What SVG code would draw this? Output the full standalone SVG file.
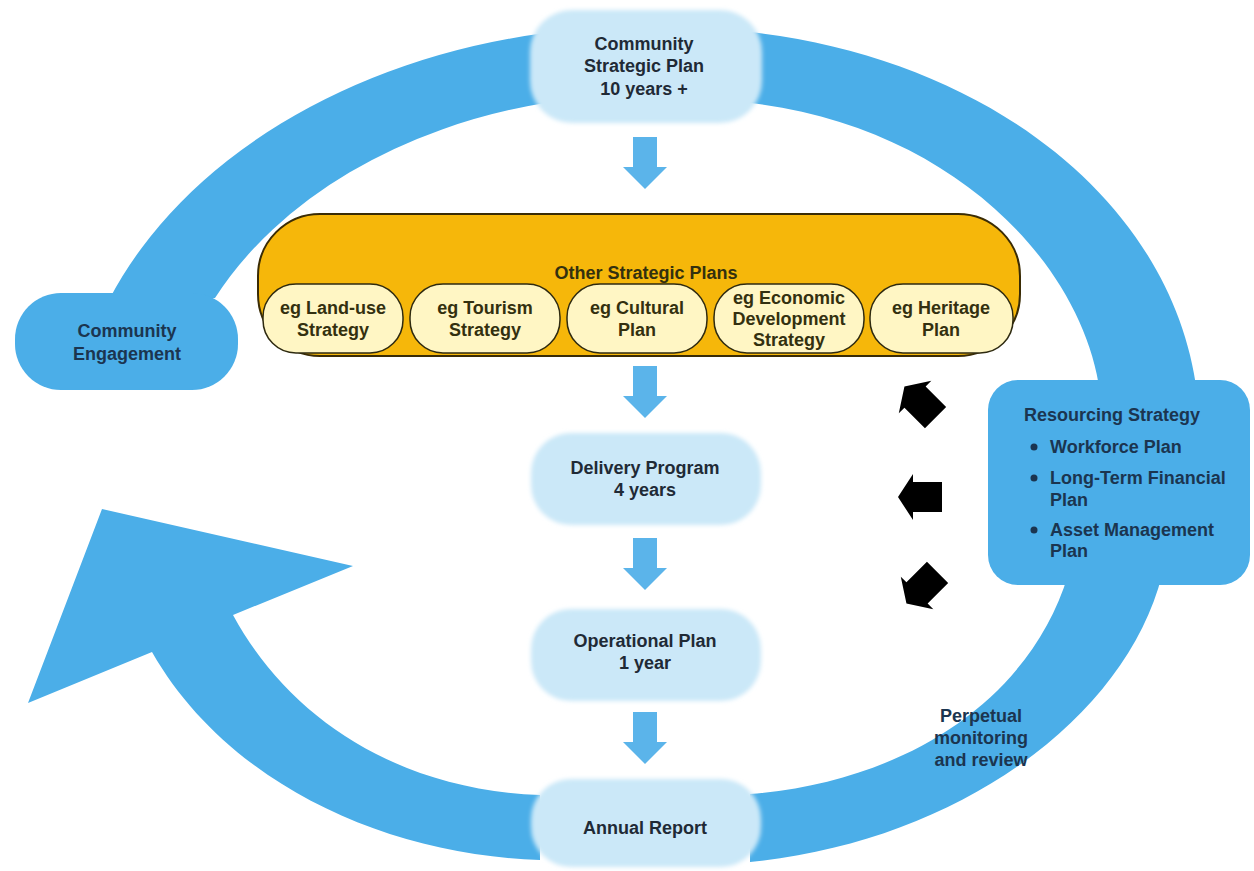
<svg xmlns="http://www.w3.org/2000/svg" width="1254" height="871" viewBox="0 0 1254 871">
<defs>
<style>
.band{fill:#4BAEE8}
.node{fill:#CBE8F8}
.t{font-family:"Liberation Sans",Arial,sans-serif;font-weight:bold;font-size:18px;text-anchor:middle;fill:#1F2A36}
.tb{font-family:"Liberation Sans",Arial,sans-serif;font-weight:bold;font-size:18px;fill:#1B3550}
.tc{font-family:"Liberation Sans",Arial,sans-serif;font-weight:bold;font-size:18px;text-anchor:middle;fill:#1B3550}
.ty{font-family:"Liberation Sans",Arial,sans-serif;font-weight:bold;font-size:18px;text-anchor:middle;fill:#33300F}
.pill{fill:#FFF6C4;stroke:#2E2A10;stroke-width:1.5}
.down{fill:#5BB4EA}
.blk{fill:#000}
</style>
<filter id="soft" x="-10%" y="-10%" width="120%" height="120%"><feGaussianBlur stdDeviation="2"/></filter>
<polygon id="dn" points="-12,0 12,0 12,30 22,30 0,52 -22,30 -12,30"/>
<polygon id="la" points="-22,0 -7,-23 -7,-15 22,-15 22,15 -7,15 -7,23"/>
</defs>

<g id="connectors">
  <!-- top-left arc -->
  <path class="band" d="M 110 298 A 578 428 0 0 1 545 33 L 545 103 A 482 358 0 0 0 215 298 Z"/>
  <!-- top-right arc -->
  <path class="band" d="M 750 32 C 985 58 1172 200 1197 392 L 1100 392 C 1082 262 950 126 750 103 Z"/>
  <!-- bottom-right arc -->
  <path class="band" d="M 750 862 C 955 842 1125 720 1162 575 L 1068 575 C 1030 700 905 782 750 794 Z"/>
  <!-- bottom-left arc with arrowhead -->
  <path class="band" d="M 540 860 C 380 855 225 780 152 652 L 28 703 L 102 509 L 353 566 L 233 615 C 290 720 400 790 540 795 Z"/>
  <!-- down arrows -->
  <use href="#dn" x="645" y="137" class="down"/>
  <use href="#dn" x="645" y="366" class="down"/>
  <use href="#dn" x="645" y="538" class="down"/>
  <use href="#dn" x="645" y="712" class="down"/>
  <!-- black arrows -->
  <use href="#la" class="blk" transform="translate(920,402) rotate(45)"/>
  <use href="#la" class="blk" transform="translate(920,497)"/>
  <use href="#la" class="blk" transform="translate(922,588) rotate(-45)"/>
</g>

<g id="community-engagement">
  <rect class="band" x="15" y="293" width="223" height="97" rx="46"/>
  <text class="tc" x="127" y="337">Community</text>
  <text class="tc" x="127" y="360">Engagement</text>
</g>

<g id="community-strategic-plan">
  <rect class="node" x="530" y="10" width="232" height="113" rx="42" filter="url(#soft)"/>
  <text class="t" x="644" y="50">Community</text>
  <text class="t" x="644" y="72">Strategic Plan</text>
  <text class="t" x="644" y="95">10 years +</text>
</g>

<g id="other-strategic-plans">
  <rect x="258" y="214" width="762" height="142" rx="62" fill="#F6B70A" stroke="#3A2C05" stroke-width="2"/>
  <text class="ty" x="646" y="279" fill="#5C4300">Other Strategic Plans</text>
  <g id="land-use">
    <rect class="pill" x="263" y="284" width="140" height="69" rx="33"/>
    <text class="ty" x="333" y="314">eg Land-use</text>
    <text class="ty" x="333" y="336">Strategy</text>
  </g>
  <g id="tourism">
    <rect class="pill" x="410" y="284" width="150" height="69" rx="33"/>
    <text class="ty" x="485" y="314">eg Tourism</text>
    <text class="ty" x="485" y="336">Strategy</text>
  </g>
  <g id="cultural">
    <rect class="pill" x="567" y="284" width="140" height="69" rx="33"/>
    <text class="ty" x="637" y="314">eg Cultural</text>
    <text class="ty" x="637" y="336">Plan</text>
  </g>
  <g id="economic">
    <rect class="pill" x="714" y="284" width="150" height="69" rx="33"/>
    <text class="ty" x="789" y="304">eg Economic</text>
    <text class="ty" x="789" y="325">Development</text>
    <text class="ty" x="789" y="346">Strategy</text>
  </g>
  <g id="heritage">
    <rect class="pill" x="870" y="284" width="143" height="69" rx="33"/>
    <text class="ty" x="941" y="314">eg Heritage</text>
    <text class="ty" x="941" y="336">Plan</text>
  </g>
</g>

<g id="delivery-program">
  <rect class="node" x="531" y="433" width="230" height="92" rx="40" filter="url(#soft)"/>
  <text class="t" x="645" y="474">Delivery Program</text>
  <text class="t" x="645" y="496">4 years</text>
</g>

<g id="operational-plan">
  <rect class="node" x="531" y="609" width="230" height="92" rx="40" filter="url(#soft)"/>
  <text class="t" x="645" y="647">Operational Plan</text>
  <text class="t" x="645" y="669">1 year</text>
</g>

<g id="annual-report">
  <rect class="node" x="531" y="779" width="230" height="88" rx="40" filter="url(#soft)"/>
  <text class="t" x="645" y="834">Annual Report</text>
</g>

<g id="resourcing-strategy">
  <rect class="band" x="988" y="380" width="262" height="205" rx="30"/>
  <text class="tb" x="1024" y="421">Resourcing Strategy</text>
  <circle cx="1034" cy="447" r="3.5" fill="#1B3550"/>
  <text class="tb" x="1050" y="453">Workforce Plan</text>
  <circle cx="1034" cy="478" r="3.5" fill="#1B3550"/>
  <text class="tb" x="1050" y="484">Long-Term Financial</text>
  <text class="tb" x="1050" y="506">Plan</text>
  <circle cx="1034" cy="530" r="3.5" fill="#1B3550"/>
  <text class="tb" x="1050" y="536">Asset Management</text>
  <text class="tb" x="1050" y="557">Plan</text>
</g>

<g id="perpetual-label">
  <text class="tc" x="981" y="722">Perpetual</text>
  <text class="tc" x="981" y="744">monitoring</text>
  <text class="tc" x="981" y="766">and review</text>
</g>
</svg>
